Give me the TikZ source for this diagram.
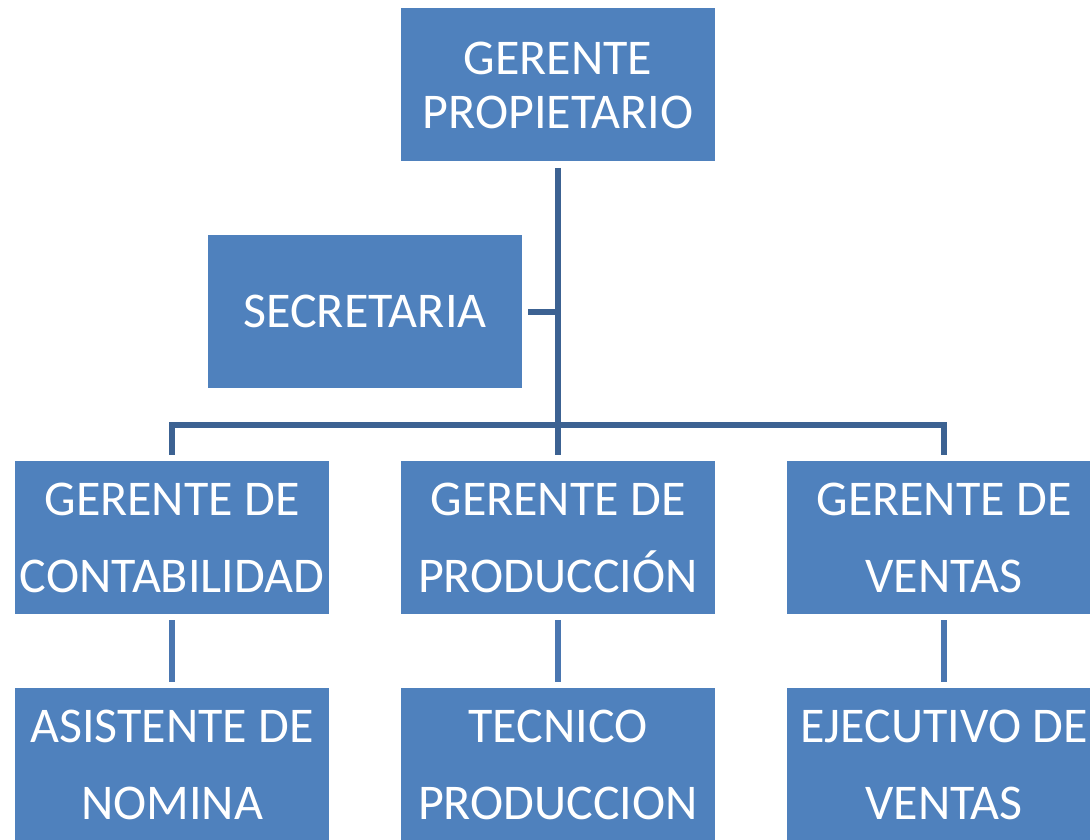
\documentclass[tikz,border=0pt]{standalone}
\usepackage{fontspec}
\setmainfont{Carlito}
\usetikzlibrary{positioning}
\definecolor{boxblue}{RGB}{79,129,189}
\definecolor{lineblue}{RGB}{60,98,146}
\definecolor{linelight}{RGB}{74,118,176}
\begin{document}
\begin{tikzpicture}[x=0.5pt,y=-0.5pt,
  orgbox/.style={fill=boxblue, text=white, minimum width=157pt, minimum height=76.5pt,
    inner sep=0pt, align=center, font=\fontsize{25}{38.5}\selectfont},
  conn/.style={draw=lineblue, line width=3pt, shorten <=3pt, shorten >=3pt},
  subconn/.style={draw=linelight, line width=2.6pt, shorten <=3pt, shorten >=3pt}]
  %set diagram size
  \useasboundingbox (0,0) rectangle (1090,839);

  % Boxes
  \node[orgbox, font=\fontsize{25}{27}\selectfont] (gerente) at (558,85) {GERENTE\\PROPIETARIO};
  \node[orgbox] (secre) at (365,311.5) {SECRETARIA};
  \node[orgbox] (conta) at (172,537.5) {GERENTE DE\\CONTABILIDAD};
  \node[orgbox] (produ) at (558,537.5) {GERENTE DE\\PRODUCCIÓN};
  \node[orgbox] (venta) at (944,537.5) {GERENTE DE\\VENTAS};
  \node[orgbox] (nomina) at (172,764.5) {ASISTENTE DE\\NOMINA};
  \node[orgbox] (tecnico) at (558,764.5) {TECNICO\\PRODUCCION};
  \node[orgbox] (ejecu) at (944,764.5) {EJECUTIVO DE\\VENTAS};

  % Connectors
  \coordinate (bus) at (558,425);
  \draw[conn, shorten >=0pt] (gerente.south) -- (bus);
  \draw[conn] (conta.north) |- (bus) -| (venta.north);
  \draw[conn, shorten <=0pt] (bus) -- (produ.north);
  \draw[conn, shorten >=0pt] (secre.east) -- (secre.east -| bus);
  \draw[subconn] (conta) -- (nomina);
  \draw[subconn] (produ) -- (tecnico);
  \draw[subconn] (venta) -- (ejecu);
\end{tikzpicture}
\end{document}
